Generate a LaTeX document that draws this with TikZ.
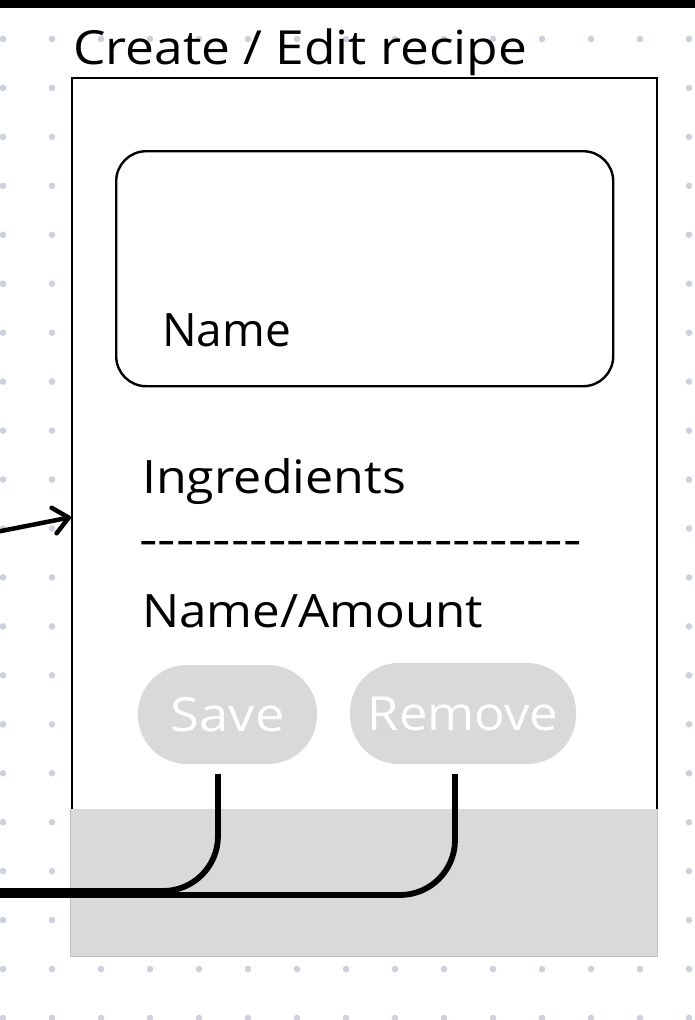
\documentclass[tikz,border=0pt]{standalone}
\usepackage{fontspec}
\setmainfont{Open Sans}
\usetikzlibrary{arrows.meta}
\definecolor{dotc}{RGB}{204,209,221}
\definecolor{btn}{RGB}{217,217,217}
\definecolor{btnedge}{RGB}{192,192,192}
\newcommand\hy{\hbox{-}}
\begin{document}
\begin{tikzpicture}[x=1pt,y=-1pt,
  lbl/.style={inner sep=0pt, anchor=base west, font=\fontsize{46}{52}\selectfont},
  panel/.style={draw=black, line width=2.4pt, fill=white, inner sep=0pt, anchor=north west},
  pill/.style={fill=btn, inner sep=0pt, rounded corners=49pt, text=white, font=\fontsize{47}{52}\selectfont},
  wire/.style={draw=black, line width=5.8pt, rounded corners=55pt},
  pointer/.style={draw=black, line width=4.5pt, -{Straight Barb[length=15pt,width=26pt,round]}}]
\useasboundingbox (0,0) rectangle (695,1020);
\fill[white] (0,0) rectangle (695,1020);
\fill[black] (0,0) rectangle (695,7.5);
\foreach \i in {0,...,14}
  \foreach \j in {0,...,20}
    \fill[dotc] ({3+49*\i},{39+48.95*\j}) circle (3.3pt);
% frame
\node[panel, minimum width=585pt, minimum height=878pt] (frame) at (71,77) {};
\fill[btn] (69.5,809) rectangle (657.8,957);
\draw[btnedge, line width=1pt] (70.5,809) -- (70.5,956.5) -- (657,956.5) -- (657,809);
\node[lbl, font=\fontsize{47}{52}\selectfont] (title) at (73,64) {\scalebox{1.095}[1]{Create / Edit recipe}};
% name field
\node[panel, rounded corners=30pt, minimum width=497pt, minimum height=235pt] (namebox) at (115,150) {};
\node[lbl] (namelbl) at (162,346) {Name};
\node[lbl] (ingr) at (142,493) {\scalebox{1.09}[1]{Ingredients}};
\node[lbl] (rule) at (139,555) {\scalebox{1.245}[1]{\hy\hy\hy\hy\hy\hy\hy\hy\hy\hy\hy\hy\hy\hy\hy\hy\hy\hy\hy\hy\hy\hy\hy\hy}};
\node[lbl] (amount) at (142,627) {\scalebox{1.072}[1]{Name/Amount}};
% buttons
\node[pill, minimum width=179pt, minimum height=99pt] (save) at (227.5,714.5) {\scalebox{1.12}[1]{Save}};
\node[pill, minimum width=226pt, minimum height=101pt] (remove) at (463,713.5) {\scalebox{1.08}[1]{Remove}};
% connectors
\coordinate (exitS) at (-4,891);
\coordinate (exitR) at (-4,895);
\coordinate (src) at (-4,532);
\draw[wire] ([xshift=-9.5pt,yshift=-10pt]save.south) |- (exitS);
\draw[wire] ([xshift=-8pt,yshift=-10pt]remove.south) |- (exitR);
\draw[pointer] (src) -- (frame.west);
\end{tikzpicture}
\end{document}
